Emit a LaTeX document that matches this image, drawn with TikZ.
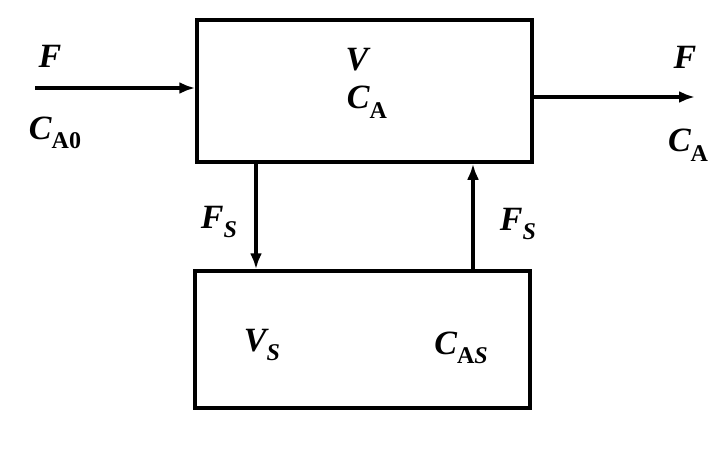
\documentclass[tikz,border=0pt]{standalone}
\usepackage{fontspec}
\setmainfont{Liberation Serif}
\usetikzlibrary{arrows.meta}
\newcommand{\lsub}[1]{\raisebox{-0.28em}{\fontsize{24}{28}\selectfont #1}}
\begin{document}
\begin{tikzpicture}[x=1pt,y=-1pt,
  box/.style={draw,line width=3.5pt,rectangle,inner sep=0pt},
  flow/.style={line width=4pt,-{Latex[length=16pt,width=12pt]}},
  lbl/.style={inner sep=0pt,font=\fontsize{34}{40}\selectfont\bfseries\itshape}]
\useasboundingbox (0,0) rectangle (723,455);
\node[box,minimum width=335pt,minimum height=142pt] (top) at (364.5,91) {};
\node[box,minimum width=335pt,minimum height=137pt] (bot) at (362.5,339.5) {};
\coordinate (in) at (35,88);
\coordinate (out) at (695,97);
\coordinate (dn) at (256,162);
\coordinate (up) at (473,271);
\draw[flow] (in) -- (in -| top.west);
\draw[flow] (top.east |- out) -- (out);
\draw[flow] (dn) -- (dn |- bot.north);
\draw[flow] (up) -- (up |- top.south);
\node[lbl] (fin) at (50,56) {F};
\node[lbl] (cin) at (55,133) {C\lsub{\upshape A0}};
\node[lbl] (fout) at (685,57) {F};
\node[lbl] (cout) at (688,145) {C\lsub{\upshape A}};
\node[lbl] (v) at (357,60) {V};
\node[lbl] (ca) at (367,102) {C\lsub{\upshape A}};
\node[lbl] (fs1) at (219,222) {F\lsub{S}};
\node[lbl] (fs2) at (518,224) {F\lsub{S}};
\node[lbl] (vs) at (262,345) {V\lsub{S}};
\node[lbl] (cas) at (461,348) {C\lsub{{\upshape A}S}};
\end{tikzpicture}
\end{document}
